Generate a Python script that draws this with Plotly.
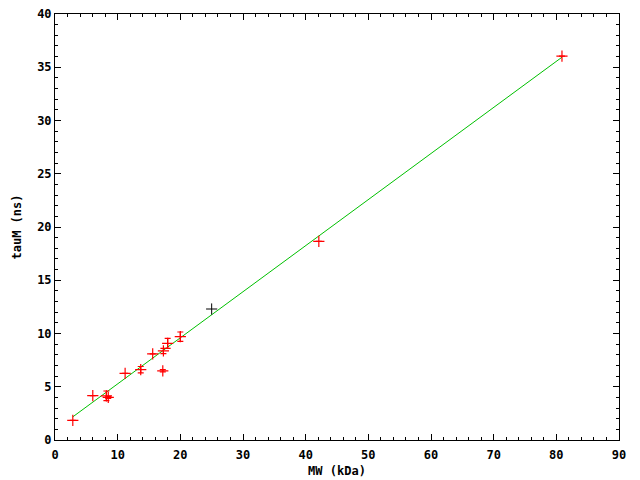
import plotly.graph_objects as go

# Data
mw = [2.84, 6.03, 8.2, 8.5, 11.19, 13.68, 15.59, 17.2, 17.3, 17.98, 20.0, 42.1, 80.9]
tau = [1.85, 4.16, 4.15, 4.0, 6.26, 6.6, 8.08, 6.5, 8.36, 9.08, 9.7, 18.65, 36.05]
tau_err = [0, 0, 0.45, 0.1, 0, 0.3, 0, 0.1, 0.25, 0.47, 0.44, 0, 0]

mw_extra = [25.0]
tau_extra = [12.3]

fit_slope = 0.4326
fit_intercept = 0.945

fit_x = [min(mw), max(mw)]
fit_y = [fit_slope * x + fit_intercept for x in fit_x]

font_family = "DejaVu Sans Mono"

fig = go.Figure()
fig.add_trace(go.Scatter(
    x=fit_x, y=fit_y, mode="lines",
    line=dict(color="#00c000", width=1),
    showlegend=False, hoverinfo="skip"))
fig.add_trace(go.Scatter(
    x=mw, y=tau, mode="markers",
    marker=dict(symbol="cross-thin", size=8, line=dict(color="#ff0000", width=1.2), color="#ff0000"),
    error_y=dict(type="data", array=tau_err, visible=True, color="#ff0000", thickness=1.2, width=3),
    showlegend=False))
fig.add_trace(go.Scatter(
    x=mw_extra, y=tau_extra, mode="markers",
    marker=dict(symbol="cross-thin", size=8, line=dict(color="#000000", width=1), color="#000000"),
    showlegend=False))

axis_common = dict(
    showline=True, linecolor="black", linewidth=1, mirror="allticks",
    ticks="inside", ticklen=6, tickcolor="black", tickwidth=1,
    showgrid=False, zeroline=False, automargin=False,
    ticklabeloverflow="allow",
    tickfont=dict(family=font_family, size=12, color="black", weight="bold"),
)

fig.update_xaxes(
    range=[0, 90], dtick=10, tick0=0,
    minor=dict(ticks="inside", ticklen=3, dtick=2, tickcolor="black", showgrid=False),
    ticklabelstandoff=4,
    title=dict(text="MW (kDa)", font=dict(family=font_family, size=12, color="black", weight="bold"), standoff=5),
    **axis_common)
fig.update_yaxes(
    range=[0, 40], dtick=5, tick0=0,
    minor=dict(ticks="inside", ticklen=3, dtick=1, tickcolor="black", showgrid=False),
    title=dict(text="tauM (ns)", font=dict(family=font_family, size=12, color="black", weight="bold"), standoff=12),
    **axis_common)

fig.update_layout(
    width=640, height=480,
    margin=dict(l=47, r=29, t=6, b=48),
    paper_bgcolor="white", plot_bgcolor="white",
)

fig.write_html("out.html")
